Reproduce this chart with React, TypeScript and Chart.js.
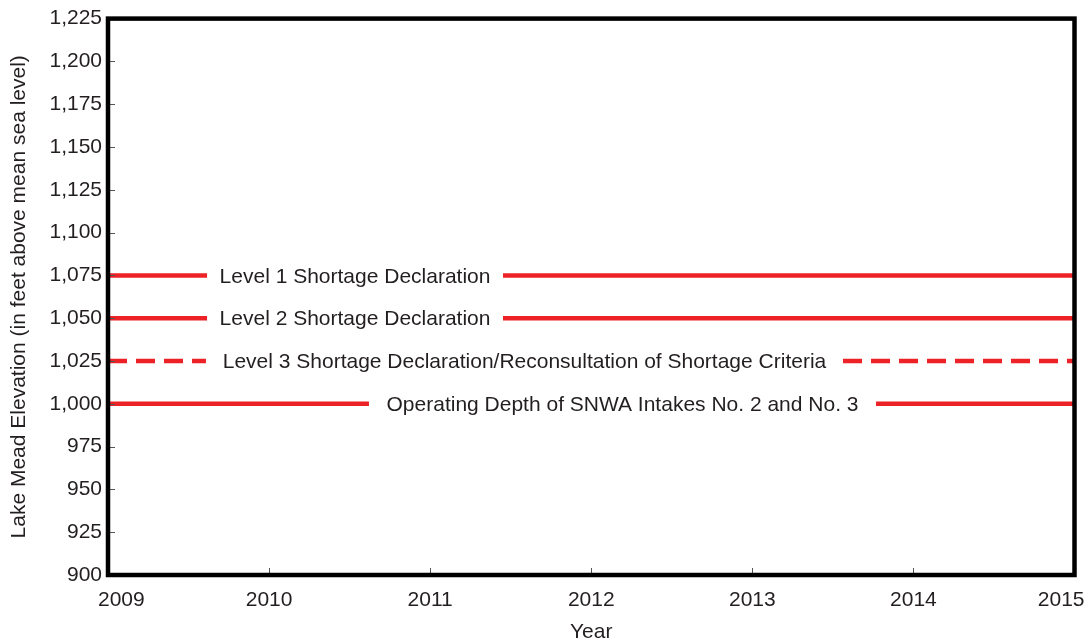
import React, { useEffect, useRef } from "react";
import { Chart, registerables } from "chart.js";

Chart.register(...registerables);

// ---- data ----
const yearTicks = [2009, 2010, 2011, 2012, 2013, 2014, 2015];
const elevationMin = 900;
const elevationMax = 1225;
const elevationStep = 25;

const thresholdValues = [1075, 1050, 1025, 1000];
const thresholdLabels = [
  "Level 1 Shortage Declaration",
  "Level 2 Shortage Declaration",
  "Level 3 Shortage Declaration/Reconsultation of Shortage Criteria",
  "Operating Depth of SNWA Intakes No. 2 and No. 3",
];
const gapStarts = [2009.615, 2009.615, 2009.608, 2010.62];
const gapEnds = [2011.452, 2011.452, 2013.563, 2013.768];
const thresholdDashed = [false, false, true, false];

const RED = "#ec2227";
const TEXT = "#231f20";
const FONT = "'Liberation Sans', Arial, Helvetica, sans-serif";
const FS = 21;

function buildDatasets() {
  const ds: any[] = [];
  const x0 = yearTicks[0];
  const x1 = yearTicks[yearTicks.length - 1];
  thresholdValues.forEach((v, i) => {
    const common = {
      borderColor: RED,
      backgroundColor: RED,
      borderWidth: 4.5,
      borderDash: thresholdDashed[i] ? [19, 9] : [],
      borderCapStyle: "butt",
      pointRadius: 0,
      fill: false,
      tension: 0,
    };
    ds.push({ ...common, label: thresholdLabels[i] + " a", data: [{ x: x0, y: v }, { x: gapStarts[i], y: v }] });
    ds.push({ ...common, label: thresholdLabels[i] + " b", data: [{ x: gapEnds[i], y: v }, { x: x1, y: v }] });
  });
  return ds;
}

const framePlugin = {
  id: "frame",
  afterDatasetsDraw(chart: any) {
    const { ctx, chartArea: a, scales } = chart;
    const xs = scales.x;
    const ys = scales.y;
    ctx.save();
    // threshold labels
    ctx.font = `${FS}px ${FONT}`;
    ctx.fillStyle = TEXT;
    ctx.textAlign = "center";
    ctx.textBaseline = "middle";
    thresholdValues.forEach((v, i) => {
      const cx = (xs.getPixelForValue(gapStarts[i]) + xs.getPixelForValue(gapEnds[i])) / 2;
      ctx.fillText(thresholdLabels[i], cx, ys.getPixelForValue(v) + 1.5);
    });
    // x tick labels (kept inside frame edges)
    ctx.textBaseline = "alphabetic";
    yearTicks.forEach((yr) => {
      const t = String(yr);
      const w = ctx.measureText(t).width;
      let px = xs.getPixelForValue(yr);
      px = Math.max(a.left + w / 2 - 10, Math.min(a.right - w / 2 + 10, px));
      ctx.fillText(t, px, a.bottom + 31);
    });
    // inner tick marks
    ctx.strokeStyle = "#555";
    ctx.lineWidth = 1;
    ctx.beginPath();
    yearTicks.forEach((yr) => {
      const px = Math.round(xs.getPixelForValue(yr)) + 0.5;
      ctx.moveTo(px, a.bottom);
      ctx.lineTo(px, a.bottom - 7);
    });
    for (let v = elevationMin; v <= elevationMax; v += elevationStep) {
      const py = Math.round(ys.getPixelForValue(v)) + 0.5;
      ctx.moveTo(a.left, py);
      ctx.lineTo(a.left + 7, py);
    }
    ctx.stroke();
    // frame
    ctx.strokeStyle = "#000";
    ctx.lineWidth = 4.5;
    ctx.lineJoin = "miter";
    ctx.strokeRect(a.left, a.top, a.right - a.left, a.bottom - a.top);
    ctx.restore();
  },
};

export default function App() {
  const ref = useRef<HTMLCanvasElement | null>(null);
  useEffect(() => {
    if (!ref.current) return;
    const chart = new Chart(ref.current, {
      type: "line",
      data: { datasets: buildDatasets() },
      options: {
        animation: false,
        responsive: false,
        devicePixelRatio: 1,
        layout: { padding: { top: 16.5, right: 17.5, left: 0, bottom: 0 } },
        plugins: { legend: { display: false }, tooltip: { enabled: false } },
        font: { family: FONT },
        scales: {
          x: {
            type: "linear",
            min: yearTicks[0],
            max: yearTicks[yearTicks.length - 1],
            grid: { display: false, drawTicks: false },
            border: { display: false },
            ticks: { display: false, stepSize: 1 },
            title: {
              display: true,
              text: "Year",
              color: TEXT,
              font: { size: FS, family: FONT, lineHeight: 1 },
              padding: { top: 0, bottom: 0 },
            },
            afterFit: (s: any) => {
              s.height = 68;
            },
          },
          y: {
            type: "linear",
            min: elevationMin,
            max: elevationMax,
            grid: { display: false, drawTicks: false },
            border: { display: false },
            ticks: {
              stepSize: elevationStep,
              padding: 6,
              color: TEXT,
              font: { size: FS, family: FONT },
              callback: (v: any) => Number(v).toLocaleString("en-US"),
            },
            title: {
              display: true,
              text: "Lake Mead Elevation (in feet above mean sea level)",
              color: TEXT,
              font: { size: FS, family: FONT, lineHeight: 1 },
              padding: { top: 9, bottom: 0 },
            },
            afterFit: (s: any) => {
              s.width = 108;
            },
          },
        },
      } as any,
      plugins: [framePlugin],
    });
    return () => chart.destroy();
  }, []);
  return (
    <div style={{ position: "fixed", left: 0, top: 0, width: 1092, height: 643, background: "#fff" }}>
      <canvas ref={ref} width={1092} height={643} />
    </div>
  );
}
